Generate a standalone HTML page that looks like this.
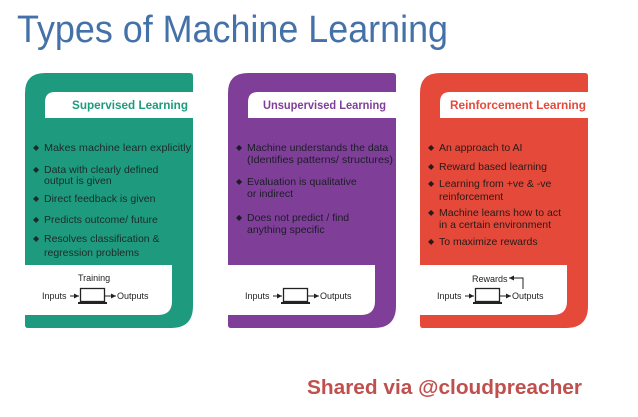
<!DOCTYPE html>
<html><head><meta charset="utf-8"><style>html,body{margin:0;padding:0;background:#fff}svg{display:block}</style></head>
<body>
<svg width="638" height="417" viewBox="0 0 638 417" xmlns="http://www.w3.org/2000/svg" font-family="Liberation Sans, sans-serif">
<defs>
<marker id="ah" markerWidth="6" markerHeight="6" refX="5" refY="3" orient="auto"><path d="M0,0.5 L5,3 L0,5.5 Z" fill="#222"/></marker>
</defs>
<text x="17" y="42" font-size="38" fill="#4472a8" textLength="431" lengthAdjust="spacingAndGlyphs">Types of Machine Learning</text>

<!-- Green card -->
<g transform="translate(25,73)">
<path d="M0,20 Q0,0 20,0 L165,0 Q168,0 168,3 L168,233 Q168,255 146,255 L3,255 Q0,255 0,252 Z" fill="#1e9b7f"/>
<path d="M20,45 L20,29 Q20,19 30,19 L168,19 L168,45 Z" fill="#fff"/>
<path d="M0,192 L147,192 L147,228 Q147,242 133,242 L0,242 Z" fill="#fff"/>
<text x="47" y="36" font-size="12" font-weight="bold" fill="#1e9b7f" textLength="116" lengthAdjust="spacingAndGlyphs">Supervised Learning</text>
<g font-size="10.5" fill="#1c2b28">
<g font-size="8"><text x="8" y="77">◆</text><text x="8" y="99">◆</text><text x="8" y="128">◆</text><text x="8" y="149">◆</text><text x="8" y="168">◆</text></g>
<text x="19" y="78" textLength="147" lengthAdjust="spacingAndGlyphs">Makes machine learn explicitly</text>
<text x="19" y="100">Data with clearly defined</text><text x="19" y="111">output is given</text>
<text x="19" y="129">Direct feedback is given</text>
<text x="19" y="150">Predicts outcome/ future</text>
<text x="19" y="169">Resolves classification &amp;</text><text x="19" y="183">regression problems</text>
</g>
<g font-size="9" fill="#222">
<text x="53" y="208">Training</text>
<text x="17" y="226">Inputs</text>
<line x1="45" y1="223" x2="54" y2="223" stroke="#222" marker-end="url(#ah)"/>
<rect x="55.5" y="215.5" width="24" height="13" fill="#fff" stroke="#222" stroke-width="1.3"/>
<rect x="53" y="229" width="29" height="2" fill="#222"/>
<line x1="80" y1="223" x2="91" y2="223" stroke="#222" marker-end="url(#ah)"/>
<text x="92" y="226">Outputs</text>
</g>
</g>

<!-- Purple card -->
<g transform="translate(228,73)">
<path d="M0,20 Q0,0 20,0 L165,0 Q168,0 168,3 L168,233 Q168,255 146,255 L3,255 Q0,255 0,252 Z" fill="#7f3f98"/>
<path d="M20,45 L20,29 Q20,19 30,19 L168,19 L168,45 Z" fill="#fff"/>
<path d="M0,192 L147,192 L147,228 Q147,242 133,242 L0,242 Z" fill="#fff"/>
<text x="35" y="36" font-size="12" font-weight="bold" fill="#7f3f98" textLength="123" lengthAdjust="spacingAndGlyphs">Unsupervised Learning</text>
<g font-size="10.5" fill="#1c1c28">
<g font-size="8"><text x="8" y="77">◆</text><text x="8" y="111">◆</text><text x="8" y="147">◆</text></g>
<text x="19" y="78">Machine understands the data</text><text x="19" y="90" textLength="146" lengthAdjust="spacingAndGlyphs">(Identifies patterns/ structures)</text>
<text x="19" y="112">Evaluation is qualitative</text><text x="19" y="124">or indirect</text>
<text x="19" y="148">Does not predict / find</text><text x="19" y="160">anything specific</text>
</g>
<g font-size="9" fill="#222">
<text x="17" y="226">Inputs</text>
<line x1="45" y1="223" x2="54" y2="223" stroke="#222" marker-end="url(#ah)"/>
<rect x="55.5" y="215.5" width="24" height="13" fill="#fff" stroke="#222" stroke-width="1.3"/>
<rect x="53" y="229" width="29" height="2" fill="#222"/>
<line x1="80" y1="223" x2="91" y2="223" stroke="#222" marker-end="url(#ah)"/>
<text x="92" y="226">Outputs</text>
</g>
</g>

<!-- Red card -->
<g transform="translate(420,73)">
<path d="M0,20 Q0,0 20,0 L165,0 Q168,0 168,3 L168,233 Q168,255 146,255 L3,255 Q0,255 0,252 Z" fill="#e5493a"/>
<path d="M20,45 L20,29 Q20,19 30,19 L168,19 L168,45 Z" fill="#fff"/>
<path d="M0,192 L147,192 L147,228 Q147,242 133,242 L0,242 Z" fill="#fff"/>
<text x="30" y="36" font-size="12" font-weight="bold" fill="#e5493a" textLength="136" lengthAdjust="spacingAndGlyphs">Reinforcement Learning</text>
<g font-size="10.5" fill="#2a1a18">
<g font-size="8"><text x="8" y="77">◆</text><text x="8" y="96">◆</text><text x="8" y="113">◆</text><text x="8" y="142">◆</text><text x="8" y="171">◆</text></g>
<text x="19" y="78">An approach to AI</text>
<text x="19" y="97">Reward based learning</text>
<text x="19" y="114">Learning from +ve &amp; -ve</text><text x="19" y="127">reinforcement</text>
<text x="19" y="143">Machine learns how to act</text><text x="19" y="155">in a certain environment</text>
<text x="19" y="172">To maximize rewards</text>
</g>
<g font-size="9" fill="#222">
<text x="52" y="209">Rewards</text>
<polyline points="103,216 103,205 89,205" fill="none" stroke="#222" marker-end="url(#ah)"/>
<text x="17" y="226">Inputs</text>
<line x1="45" y1="223" x2="54" y2="223" stroke="#222" marker-end="url(#ah)"/>
<rect x="55.5" y="215.5" width="24" height="13" fill="#fff" stroke="#222" stroke-width="1.3"/>
<rect x="53" y="229" width="29" height="2" fill="#222"/>
<line x1="80" y1="223" x2="91" y2="223" stroke="#222" marker-end="url(#ah)"/>
<text x="92" y="226">Outputs</text>
</g>
</g>

<text x="307" y="394" font-size="20" font-weight="bold" fill="#c0504d" textLength="275" lengthAdjust="spacingAndGlyphs">Shared via @cloudpreacher</text>
</svg>
</body></html>
